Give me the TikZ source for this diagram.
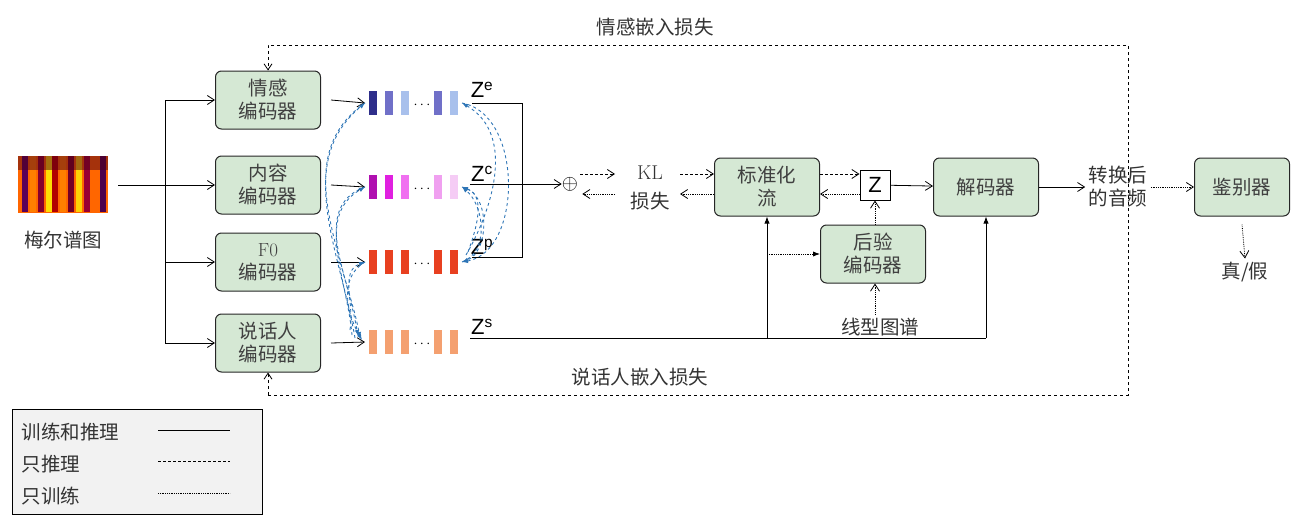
\documentclass[tikz,border=0pt]{standalone}
\usepackage{fontspec}
\newfontfamily\cjk{Noto Sans CJK SC}
\newfontfamily\ars{Liberation Sans}
\usetikzlibrary{arrows.meta,calc}
\definecolor{gf}{HTML}{D5E8D4}
\definecolor{bl}{HTML}{2E75B6}
\begin{document}
\begin{tikzpicture}[x=1pt,y=-1pt,
 enc/.style={draw=black!85,fill=gf,rounded corners=6pt,line width=1pt,minimum width=105pt,minimum height=58pt,align=center,font=\cjk\fontsize{19.5}{23}\selectfont,text=black!75},
 lab/.style={font=\cjk\fontsize{19.5}{23}\selectfont,text=black!80,align=center},
 ar/.style={-{Straight Barb[length=7pt,width=9pt]},line width=0.8pt},
 da/.style={ar,densely dashed},
 dt/.style={ar,densely dotted},
 bd/.style={-{Latex[length=6pt]},bl,dashed,line width=0.9pt},
 zl/.style={font=\ars\fontsize{22}{22}\selectfont,inner sep=0pt}]
\useasboundingbox (0,0) rectangle (1313,527);
% spectrogram
\node[inner sep=0pt,minimum width=90pt,minimum height=57pt,fill=orange!80!red] (mel) at (63,184) {};
\foreach \x/\c in {22/violet!70!black,30/orange,38/purple!70!black,46/yellow!80!orange,52/red!70!black,60/orange,68/purple!60!black,76/yellow!70!orange,84/purple!80!black,92/orange!80!red,100/violet!60!black}
 \fill[\c] (\x,156) rectangle ++(6,56);
\fill[black!60!purple,opacity=0.5] (18,156) rectangle (108,170);
\node[lab] (mell) at (63,240) {梅尔谱图};
% encoders
\node[enc] (e1) at (268,100) {情感\\编码器};
\node[enc] (e2) at (268,185) {内容\\编码器};
\node[enc] (e3) at (268,262) {{\fontsize{19}{23}\selectfont\rmfamily F0}\\编码器};
\node[enc] (e4) at (268,343) {说话人\\编码器};
\coordinate (sp) at (165,185);
\draw[line width=0.8pt] (118,185) -- (sp);
\draw[ar] (sp) -- (e2.west);
\draw[ar] (sp) |- (e1.west);
\draw[ar] (sp) |- (e3.west);
\draw[ar] (sp) |- (e4.west);
% vectors
\newcommand\vecrow[7]{%
 \foreach \x/\c in {369/#2,385/#3,401/#4,434/#5,450/#6} \fill[\c] (\x,#1-12) rectangle ++(8,24);
 \node[inner sep=0pt,font=\Large] at (422,#1+2) {$\cdots$};
 \coordinate (#7L) at (365,#1); \coordinate (#7R) at (462,#1);}
\definecolor{a1}{HTML}{2E2E8A}\definecolor{a2}{HTML}{7070C8}\definecolor{a3}{HTML}{A8C0EC}
\definecolor{b1}{HTML}{B010B0}\definecolor{b2}{HTML}{E020E0}\definecolor{b3}{HTML}{F070F0}\definecolor{b4}{HTML}{F0A0F0}\definecolor{b5}{HTML}{F5CCF5}
\definecolor{c1}{HTML}{E84020}\definecolor{d1}{HTML}{F4A070}
\vecrow{103}{a1}{a2}{a3}{a2}{a3}{ve}
\vecrow{187}{b1}{b2}{b3}{b4}{b5}{vc}
\vecrow{262}{c1}{c1}{c1}{c1}{c1}{vp}
\vecrow{342}{d1}{d1}{d1}{d1}{d1}{vs}
\draw[ar] ($(e1.east)+(10,0)$) -- (veL);
\draw[ar] ($(e2.east)+(10,0)$) -- (vcL);
\draw[ar] ($(e3.east)+(10,0)$) -- (vpL);
\draw[ar] ($(e4.east)+(10,0)$) -- (vsL);
\node[zl] (ze) at (482,90) {Z\textsuperscript{e}};
\node[zl] (zc) at (482,174) {Z\textsuperscript{c}};
\node[zl] (zp) at (482,247) {Z\textsuperscript{p}};
\node[zl] (zs) at (482,327) {Z\textsuperscript{s}};
% bracket
\draw[line width=0.8pt] (472,103) -- (522,103) -- (522,257) -- (472,257);
\node[font=\fontsize{22}{22}\selectfont,inner sep=0pt] (op) at (570,184) {$\oplus$};
\draw[ar] (470,184) -- (op.west);
% KL
\node[font=\rmfamily\fontsize{20}{22}\selectfont,text=black!80] (kl) at (650,173) {KL};
\node[lab] (kls) at (650,201) {损失};
\node[enc] (flow) at (767,187) {标准化\\流};
\node[draw,line width=1pt,minimum size=30pt,inner sep=0pt,font=\ars\fontsize{22}{22}\selectfont] (z) at (875,185) {Z};
\node[enc] (post) at (873,254) {后验\\编码器};
\node[enc] (dec) at (986,187) {解码器};
\node[enc,minimum width=95pt] (dis) at (1242,187) {鉴别器};
\draw[da] ($(op.east)+(2,-10)$) -- (615,174);
\draw[dt] (615,194) -- ($(op.east)+(4,10)$);
\draw[da] (680,174) -- (flow.west|-0,174);
\draw[dt] (flow.west|-0,194) -- (680,194);
\draw[da] (flow.east|-0,174) -- (z.west|-0,174);
\draw[dt] (z.west|-0,194) -- (flow.east|-0,194);
\draw[ar] (z) -- (dec);
\draw[dt] (post.north-|z) -- (z.south);
\node[lab] (xt) at (880,327) {线型图谱};
\draw[dt] (xt.north-|z) -- (post.south-|z);
% Zs line
\draw[line width=0.8pt] (470,338) -- (986,338);
\draw[-{Latex[length=7pt]},line width=0.8pt] (767,338) -- (flow.south);
\draw[-{Latex[length=7pt]},line width=0.8pt] (986,338) -- (dec.south);
\draw[densely dotted,-{Latex[length=7pt]},line width=0.8pt] (767,254) -- (post.west);
% output
\node[lab] (out) at (1118,187) {转换后\\的音频};
\draw[ar] (dec.east) -- (out.west);
\draw[dt] (out.east) -- (dis.west);
\node[lab] (tf) at (1245,272) {真/假};
\draw[dt] ($(dis.south)+(0,8)$) -- (tf.north);
% loss loop
\draw[dashed,line width=0.8pt,-{Straight Barb[length=6pt,width=8pt]}] (268,395) -- (1128,395) -- (1128,45) -- (268,45) -- (e1.north);
\draw[dashed,line width=0.8pt,-{Straight Barb[length=6pt,width=8pt]}] (268,395) -- (e4.south);
\node[lab] (t1) at (655,27) {情感嵌入损失};
\node[lab] (t2) at (640,377) {说话人嵌入损失};
% blue dashed curves
\draw[bd] (355,338) to[out=100,in=220] (veL);
\draw[bd] (352,335) to[out=95,in=210] (vcL);
\draw[bd] (350,330) to[out=80,in=200] (vpL);
\draw[bd] (vpL) to[out=210,in=120] (362,340);
\draw[bd] (vcL) to[out=200,in=100] (360,338);
\draw[bd] (veL) to[out=215,in=100] (358,336);
\draw[bd] (466,255) to[out=60,in=-30] (veR);
\draw[bd] (468,252) to[out=70,in=-20] (vcR);
\draw[bd] (vcR) to[out=-10,in=20] (vpR);
\draw[bd] (veR) to[out=-10,in=10] (vpR);
\draw[bd] (vpR) to[out=20,in=-40] (vcR);
% legend
\node[draw,fill=black!5,minimum width=250pt,minimum height=105pt,inner sep=0pt] (leg) at (137,462) {};
\node[lab,anchor=west] (l1) at (18,432) {训练和推理};
\node[lab,anchor=west] (l2) at (18,464) {只推理};
\node[lab,anchor=west] (l3) at (18,496) {只训练};
\draw[line width=0.8pt] (158,430) -- (230,430);
\draw[densely dashed,line width=0.8pt] (158,461) -- (230,461);
\draw[densely dotted,line width=0.8pt] (158,493) -- (230,493);
\end{tikzpicture}
\end{document}
